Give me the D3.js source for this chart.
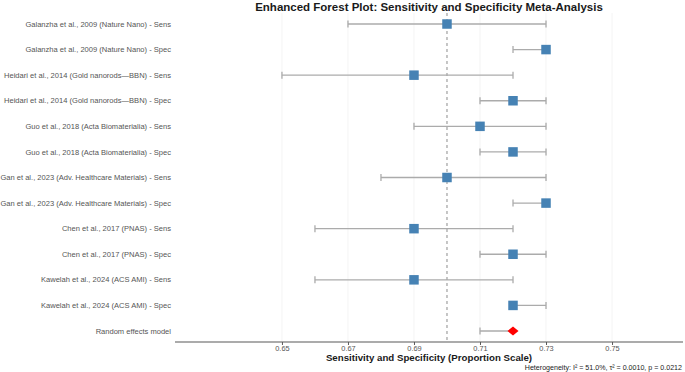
<!DOCTYPE html>
<html>
<head>
<meta charset="utf-8">
<script src="https://cdn.jsdelivr.net/npm/d3@7/dist/d3.min.js"></script>
<style>
  html, body { margin: 0; padding: 0; background: #fff; }
  svg { display: block; font-family: "Liberation Sans", Arial, Helvetica, sans-serif; }
</style>
</head>
<body>
<svg id="chart" width="685" height="372"></svg>
<script>
const labels = [
  "Galanzha et al., 2009 (Nature Nano) - Sens",
  "Galanzha et al., 2009 (Nature Nano) - Spec",
  "Heidari et al., 2014 (Gold nanorods\u2014BBN) - Sens",
  "Heidari et al., 2014 (Gold nanorods\u2014BBN) - Spec",
  "Guo et al., 2018 (Acta Biomaterialia) - Sens",
  "Guo et al., 2018 (Acta Biomaterialia) - Spec",
  "Gan et al., 2023 (Adv. Healthcare Materials) - Sens",
  "Gan et al., 2023 (Adv. Healthcare Materials) - Spec",
  "Chen et al., 2017 (PNAS) - Sens",
  "Chen et al., 2017 (PNAS) - Spec",
  "Kawelah et al., 2024 (ACS AMI) - Sens",
  "Kawelah et al., 2024 (ACS AMI) - Spec",
  "Random effects model"
];
const estimates = [0.70, 0.73, 0.69, 0.72, 0.71, 0.72, 0.70, 0.73, 0.69, 0.72, 0.69, 0.72, 0.72];
const lower     = [0.67, 0.72, 0.65, 0.71, 0.69, 0.71, 0.68, 0.72, 0.66, 0.71, 0.66, 0.72, 0.71];
const upper     = [0.73, 0.73, 0.72, 0.73, 0.73, 0.73, 0.73, 0.73, 0.72, 0.73, 0.72, 0.73, 0.72];
const isSummary = [false,false,false,false,false,false,false,false,false,false,false,false,true];
const xTicks = [0.65, 0.67, 0.69, 0.71, 0.73, 0.75];
const refValue = 0.70;
const titleText = "Enhanced Forest Plot: Sensitivity and Specificity Meta-Analysis";
const xTitle = "Sensitivity and Specificity (Proportion Scale)";
const caption = "Heterogeneity: I\u00b2 = 51.0%, \u03c4\u00b2 = 0.0010, p = 0.0212";

const rows = labels.map((l, i) => ({label: l, est: estimates[i], lo: lower[i], hi: upper[i], summary: isSummary[i]}));

const svg = d3.select("#chart");
const panel = {left: 175, right: 683, top: 13, bottom: 342};

const x = d3.scaleLinear().domain([0.6176, 0.7715]).range([panel.left, panel.right]);
const y = d3.scalePoint().domain(labels).range([24, 331]);

// grid
svg.append("g").selectAll("line").data(xTicks).join("line")
  .attr("x1", d => x(d)).attr("x2", d => x(d))
  .attr("y1", panel.top).attr("y2", panel.bottom)
  .attr("stroke", "#ececec").attr("stroke-width", 0.6);

// reference line
svg.append("line")
  .attr("x1", x(refValue)).attr("x2", x(refValue))
  .attr("y1", panel.top).attr("y2", panel.bottom)
  .attr("stroke", "#8c8c8c").attr("stroke-width", 1)
  .attr("stroke-dasharray", "3,3");

// error bars
const eb = svg.append("g");
eb.selectAll("line.ci").data(rows).join("line").attr("class", "ci")
  .attr("x1", d => x(d.lo)).attr("x2", d => x(d.hi))
  .attr("y1", d => y(d.label)).attr("y2", d => y(d.label))
  .attr("stroke", "#ababab").attr("stroke-width", 1.3);
["lo", "hi"].forEach(k => {
  eb.selectAll("line.cap" + k).data(rows).join("line").attr("class", "cap" + k)
    .attr("x1", d => x(d[k])).attr("x2", d => x(d[k]))
    .attr("y1", d => y(d.label) - 3.5).attr("y2", d => y(d.label) + 3.5)
    .attr("stroke", "#ababab").attr("stroke-width", 1.3);
});

// points
const s = 9.5;
svg.append("g").selectAll("rect").data(rows.filter(d => !d.summary)).join("rect")
  .attr("x", d => x(d.est) - s / 2).attr("y", d => y(d.label) - s / 2)
  .attr("width", s).attr("height", s)
  .attr("fill", "#4682b4");
svg.append("g").selectAll("path").data(rows.filter(d => d.summary)).join("path")
  .attr("transform", d => `translate(${x(d.est)},${y(d.label)})`)
  .attr("d", "M-5.5,0 L0,-4.5 L5.5,0 L0,4.5 Z")
  .attr("fill", "#ff0000");

// row labels
svg.append("g").selectAll("text").data(rows).join("text")
  .attr("x", 171).attr("y", d => y(d.label)).attr("dy", "0.35em")
  .attr("text-anchor", "end")
  .attr("font-size", 7.55).attr("fill", "#555555")
  .text(d => d.label);

// x axis
const xAxis = d3.axisBottom(x).tickValues(xTicks).tickSize(3).tickPadding(1).tickFormat(d3.format(".2f"));
const ax = svg.append("g").attr("transform", `translate(0,${panel.bottom})`).call(xAxis);
ax.select(".domain").attr("d", `M${panel.left},0H${panel.right}`).attr("stroke", "#595959").attr("stroke-width", 1.1);
ax.selectAll(".tick line").attr("stroke", "#595959");
ax.selectAll(".tick text").attr("font-size", 7.4).attr("fill", "#555555")
  .attr("font-family", "\"Liberation Sans\", Arial, sans-serif");

// titles
svg.append("text").attr("x", (panel.left + panel.right) / 2).attr("y", 11)
  .attr("text-anchor", "middle").attr("font-weight", "bold").attr("font-size", 11.5).attr("fill", "#1a1a1a")
  .text(titleText);
svg.append("text").attr("x", (panel.left + panel.right) / 2).attr("y", 361)
  .attr("text-anchor", "middle").attr("font-weight", "bold").attr("font-size", 9.7).attr("fill", "#1a1a1a")
  .text(xTitle);
svg.append("text").attr("x", 682).attr("y", 369.5)
  .attr("text-anchor", "end").attr("font-size", 7.1).attr("fill", "#1a1a1a")
  .text(caption);
</script>
</body>
</html>
